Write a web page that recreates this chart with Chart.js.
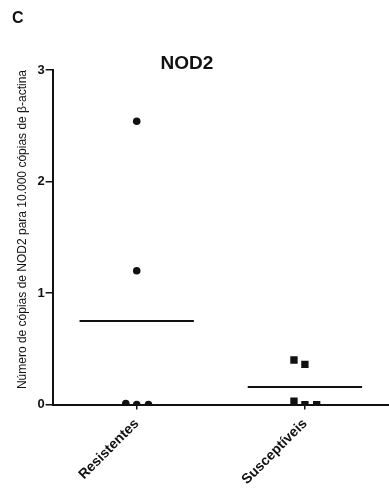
<!DOCTYPE html>
<html>
<head>
<meta charset="utf-8">
<script src="https://cdn.jsdelivr.net/npm/chart.js@4.4.0/dist/chart.umd.min.js"></script>
<style>
  html, body { margin: 0; padding: 0; background: #fff; }
  #wrap { width: 389px; height: 499px; position: relative; }
</style>
</head>
<body>
<div id="wrap"><canvas id="nod2Chart"></canvas></div>
<script>
// groups on the x axis
var categories = ['Resistentes', 'Susceptíveis'];
var categoryPos = [1, 2];

// individual samples (x = group position + small jitter, as in the figure)
var resistX = [1, 1, 0.935, 1, 1.07];
var resistY = [2.54, 1.2, 0.01, 0, 0];
var suscX = [1.935, 2, 1.935, 2, 2.07];
var suscY = [0.40, 0.36, 0.03, 0, 0];

// group means (horizontal bars)
var meanValues = [0.75, 0.158];
var meanHalfWidth = 0.34;

var yTicks = [0, 1, 2, 3];

function toPoints(xs, ys) {
    var pts = [];
    for (var i = 0; i < xs.length; i++) pts.push({ x: xs[i], y: ys[i] });
    return pts;
}

function meanLine(i) {
    return [
        { x: categoryPos[i] - meanHalfWidth, y: meanValues[i] },
        { x: categoryPos[i] + meanHalfWidth, y: meanValues[i] }
    ];
}

// panel letter and title drawn as canvas text
var labelsPlugin = {
    id: 'panelLabels',
    afterDraw: function (chart) {
        var ctx = chart.ctx;
        ctx.save();
        ctx.fillStyle = '#111';
        ctx.textBaseline = 'middle';
        ctx.font = 'bold 16px "Liberation Sans", Arial, sans-serif';
        ctx.textAlign = 'left';
        ctx.fillText('C', 12, 19);
        ctx.font = 'bold 19px "Liberation Sans", Arial, sans-serif';
        ctx.textAlign = 'center';
        ctx.fillText('NOD2', 187, 64);
        ctx.restore();
    }
};

var ctx = document.getElementById('nod2Chart');
var nodChart = new Chart(ctx, {
    type: 'scatter',
    data: {
        datasets: [
            {
                label: 'Resistentes',
                data: toPoints(resistX, resistY),
                pointStyle: 'circle',
                pointRadius: 3.8,
                backgroundColor: '#111',
                borderColor: '#111',
                borderWidth: 0
            },
            {
                label: 'Susceptíveis',
                data: toPoints(suscX, suscY),
                pointStyle: 'rect',
                pointRadius: 5.2,
                backgroundColor: '#111',
                borderColor: '#111',
                borderWidth: 0
            },
            {
                label: 'Média Resistentes',
                data: meanLine(0),
                showLine: true,
                pointRadius: 0,
                borderColor: '#111',
                borderWidth: 2
            },
            {
                label: 'Média Susceptíveis',
                data: meanLine(1),
                showLine: true,
                pointRadius: 0,
                borderColor: '#111',
                borderWidth: 2
            }
        ]
    },
    options: {
        responsive: true,
        maintainAspectRatio: false,
        animation: false,
        layout: { autoPadding: false, padding: { top: 70, left: 15, right: 0, bottom: 5 } },
        plugins: {
            legend: { display: false },
            tooltip: { enabled: false },
            title: { display: false }
        },
        scales: {
            x: {
                type: 'linear',
                min: 0.5,
                max: 2.5,
                afterBuildTicks: function (axis) {
                    axis.ticks = categoryPos.map(function (v) { return { value: v }; });
                },
                afterFit: function (axis) {
                    axis.paddingRight = 0;
                },
                ticks: {
                    color: '#111',
                    font: { family: '"Liberation Sans", Arial, sans-serif', size: 14, weight: 'bold' },
                    minRotation: 45,
                    maxRotation: 45,
                    padding: 6,
                    callback: function (value) {
                        var i = categoryPos.indexOf(value);
                        return i >= 0 ? categories[i] : '';
                    }
                },
                grid: { drawOnChartArea: false, drawTicks: true, tickLength: 5, color: '#111', lineWidth: 1.5 },
                border: { display: true, color: '#111', width: 2 }
            },
            y: {
                min: 0,
                max: 3,
                afterBuildTicks: function (axis) {
                    axis.ticks = yTicks.map(function (v) { return { value: v }; });
                },
                ticks: {
                    color: '#111',
                    font: { family: '"Liberation Sans", Arial, sans-serif', size: 13, weight: 'bold' },
                    padding: 1
                },
                grid: { drawOnChartArea: false, drawTicks: true, tickLength: 7, color: '#111', lineWidth: 1.5 },
                border: { display: true, color: '#111', width: 2 },
                title: {
                    display: true,
                    align: 'end',
                    text: 'Número de cópias de NOD2 para 10.000 cópias de β-actina',
                    color: '#111',
                    font: { family: '"Liberation Sans", Arial, sans-serif', size: 12 },
                    padding: { top: 0, bottom: 7 }
                }
            }
        }
    },
    plugins: [labelsPlugin]
});
</script>
</body>
</html>
